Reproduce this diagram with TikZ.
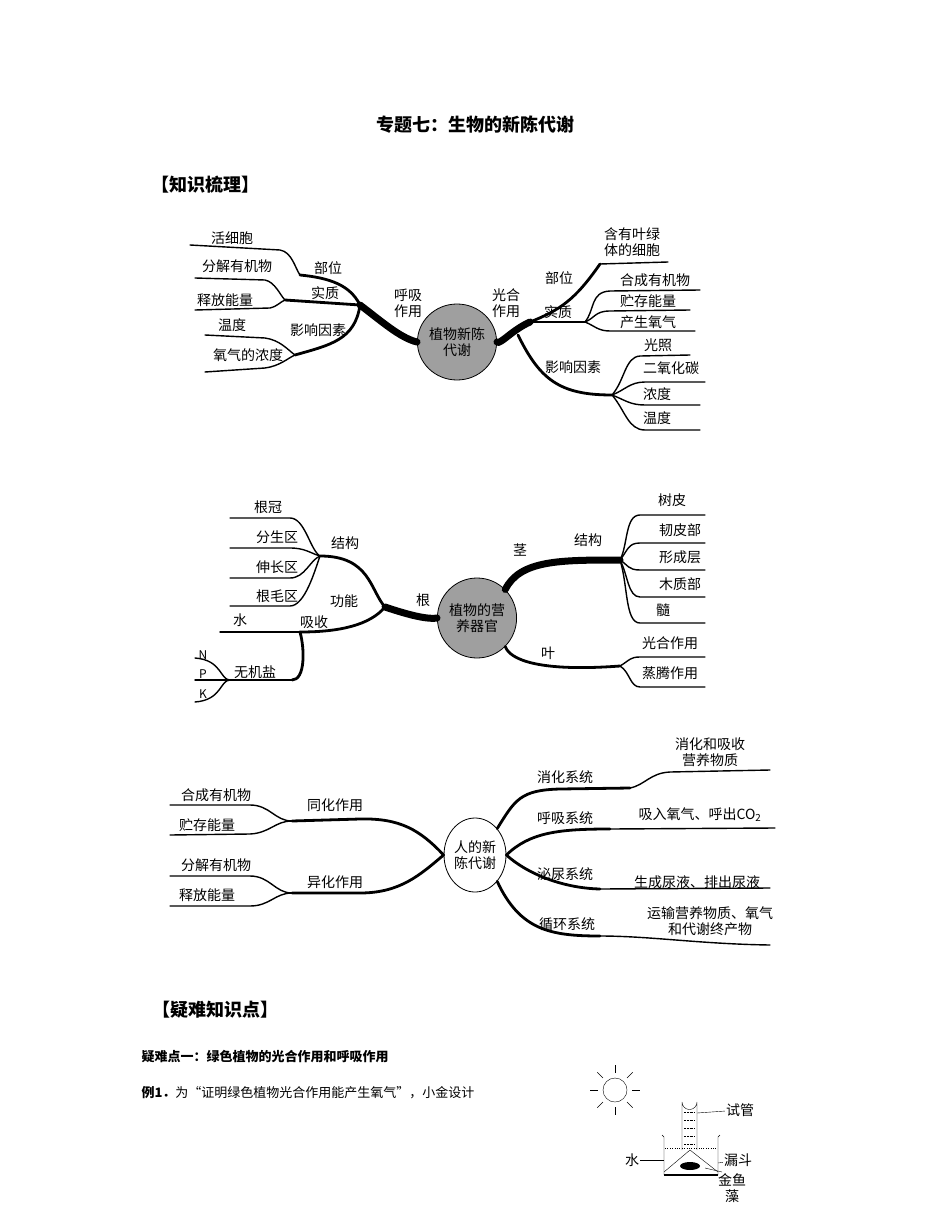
\documentclass[tikz,border=0pt]{standalone}
\usepackage{fontspec}
\setmainfont{Noto Sans CJK SC}
\usetikzlibrary{shapes.geometric}
\begin{document}
\begin{tikzpicture}[x=1pt,y=-1pt,
 lf/.style={line width=1.4pt,line cap=round},
 br/.style={line width=2.8pt,line cap=round},
 tr/.style={line width=7pt,line cap=round},
 tx/.style={font=\fontsize{14}{16}\selectfont,inner sep=1pt},
 hub/.style={ellipse,draw,line width=0.8pt,minimum width=62pt,minimum height=76pt,align=center,inner sep=0pt,font=\fontsize{14}{16}\selectfont}]
\useasboundingbox (0,0) rectangle (950,1230);
\node[font=\fontsize{18}{20}\selectfont\bfseries] (title) at (475,125) {专题七：生物的新陈代谢};
\node[font=\fontsize{18}{20}\selectfont\bfseries] (h1) at (205,185) {【知识梳理】};
% ===== diagram 1 =====
\node[hub,fill=gray!75] (c1) at (457,342) {植物新陈\\代谢};
\coordinate (L1) at (360,305);
\draw[tr] (c1.west) .. controls (400,338) and (380,320) .. (L1);
\coordinate (Jb) at (300,275); \coordinate (Js) at (285,300); \coordinate (Jy) at (295,355);
\draw[br] (L1) .. controls (350,285) and (330,278) .. (Jb);
\draw[br] (L1) -- (Js);
\draw[br] (L1) .. controls (355,340) and (330,345) .. (Jy);
\draw[lf] (190,245) -- (280,250) .. controls (292,252) and (295,268) .. (Jb);
\draw[lf] (195,278) -- (265,280) .. controls (275,282) and (280,295) .. (Js);
\draw[lf] (195,310) -- (270,308) .. controls (278,306) and (280,302) .. (Js);
\draw[lf] (205,335) -- (265,338) .. controls (280,340) and (288,350) .. (Jy);
\draw[lf] (205,372) -- (265,368) .. controls (280,366) and (288,358) .. (Jy);
\node[tx] (a1) at (232,238) {活细胞};
\node[tx] (a2) at (328,268) {部位};
\node[tx] (a3) at (237,266) {分解有机物};
\node[tx] (a4) at (325,293) {实质};
\node[tx] (a5) at (225,300) {释放能量};
\node[tx] (a6) at (232,325) {温度};
\node[tx] (a7) at (318,330) {影响因素};
\node[tx] (a8) at (248,355) {氧气的浓度};
\node[tx,align=center] (a9) at (408,303) {呼吸\\作用};
\node[tx,align=center] (b0) at (506,303) {光合\\作用};
\coordinate (R1) at (530,322);
\draw[tr] (c1.east) .. controls (500,345) and (512,330) .. (R1);
\coordinate (Rb) at (600,264); \coordinate (Rs) at (585,322); \coordinate (Ry) at (612,395);
\draw[br] (R1) .. controls (560,310) and (575,300) .. (Rb);
\draw[br] (R1) -- (Rs);
\draw[br] (518,335) .. controls (540,380) and (560,395) .. (Ry);
\draw[lf] (Rb) -- (668,262);
\draw[lf] (Rs) .. controls (595,310) and (590,292) .. (610,291) -- (700,290);
\draw[lf] (Rs) .. controls (595,318) and (595,311) .. (610,311) -- (690,310);
\draw[lf] (Rs) .. controls (595,326) and (598,331) .. (610,331) -- (695,331);
\draw[lf] (Ry) .. controls (625,380) and (625,357) .. (640,356) -- (690,355);
\draw[lf] (Ry) .. controls (625,390) and (630,382) .. (645,382) -- (705,382);
\draw[lf] (Ry) .. controls (625,400) and (630,405) .. (645,405) -- (700,405);
\draw[lf] (Ry) .. controls (625,410) and (628,430) .. (645,430) -- (700,430);
\node[tx] (b1) at (559,278) {部位};
\node[tx,align=center] (b2) at (632,242) {含有叶绿\\体的细胞};
\node[tx] (b3) at (655,280) {合成有机物};
\node[tx] (b4) at (648,301) {贮存能量};
\node[tx] (b5) at (558,312) {实质};
\node[tx] (b6) at (648,322) {产生氧气};
\node[tx] (b7) at (658,345) {光照};
\node[tx] (b8) at (573,367) {影响因素};
\node[tx] (b9) at (671,368) {二氧化碳};
\node[tx] (b10) at (657,394) {浓度};
\node[tx] (b11) at (657,418) {温度};
% ===== diagram 2 =====
\node[hub,fill=gray!75,minimum width=64pt,minimum height=80pt] (c2) at (477,618) {植物的营\\养器官};
\coordinate (G) at (385,607);
\draw[tr] (c2.west) .. controls (425,620) and (400,612) .. (G);
\coordinate (Gj) at (320,556); \coordinate (Gx) at (300,632); \coordinate (Gw) at (292,680);
\draw[br] (G) .. controls (370,590) and (370,556) .. (Gj);
\draw[br] (G) .. controls (370,625) and (340,632) .. (Gx);
\draw[br] (Gx) .. controls (305,650) and (305,680) .. (Gw);
\draw[lf] (230,518) -- (290,518) .. controls (305,518) and (310,550) .. (Gj);
\draw[lf] (230,548) -- (290,548) .. controls (305,548) and (310,553) .. (Gj);
\draw[lf] (230,578) -- (290,578) .. controls (305,578) and (310,560) .. (Gj);
\draw[lf] (230,606) -- (290,606) .. controls (305,606) and (315,570) .. (Gj);
\draw[lf] (220,632) -- (Gx);
\draw[lf] (Gw) -- (230,680);
\draw[lf] (230,680) .. controls (220,680) and (222,660) .. (195,658);
\draw[lf] (230,680) -- (195,680);
\draw[lf] (230,680) .. controls (220,680) and (222,700) .. (195,702);
\node[tx] (d1) at (268,507) {根冠};
\node[tx] (d2) at (277,537) {分生区};
\node[tx] (d3) at (345,543) {结构};
\node[tx] (d4) at (277,567) {伸长区};
\node[tx] (d5) at (277,596) {根毛区};
\node[tx] (d6) at (344,601) {功能};
\node[tx] (d7) at (423,600) {根};
\node[tx] (d8) at (240,620) {水};
\node[tx] (d9) at (314,622) {吸收};
\node[tx] (d10) at (255,672) {无机盐};
\node[tx,font=\fontsize{12}{13}\selectfont] (n1) at (203,655) {N};
\node[tx,font=\fontsize{12}{13}\selectfont] (n2) at (203,674) {P};
\node[tx,font=\fontsize{12}{13}\selectfont] (n3) at (203,694) {K};
\coordinate (S) at (620,560);
\draw[tr] (c2.north east) .. controls (520,560) and (560,560) .. (S);
\draw[lf] (S) .. controls (628,545) and (625,515) .. (640,515) -- (705,515);
\draw[lf] (S) .. controls (628,550) and (628,543) .. (640,543) -- (705,543);
\draw[lf] (S) .. controls (628,565) and (628,570) .. (640,570) -- (705,570);
\draw[lf] (S) .. controls (628,575) and (628,597) .. (640,597) -- (705,597);
\draw[lf] (S) .. controls (628,585) and (625,623) .. (640,623) -- (705,623);
\coordinate (Y) at (620,666);
\draw[br] (c2.south east) .. controls (510,660) and (540,672) .. (Y);
\draw[lf] (Y) .. controls (630,660) and (630,657) .. (640,657) -- (705,657);
\draw[lf] (Y) .. controls (630,672) and (630,687) .. (640,687) -- (705,687);
\node[tx] (e0) at (520,550) {茎};
\node[tx] (e1) at (588,540) {结构};
\node[tx] (e2) at (672,500) {树皮};
\node[tx] (e3) at (680,530) {韧皮部};
\node[tx] (e4) at (680,557) {形成层};
\node[tx] (e5) at (680,584) {木质部};
\node[tx] (e6) at (663,610) {髓};
\node[tx] (e7) at (548,653) {叶};
\node[tx] (e8) at (670,643) {光合作用};
\node[tx] (e9) at (670,673) {蒸腾作用};
% ===== diagram 3 =====
\node[hub,fill=white,minimum width=62pt,minimum height=74pt] (c3) at (475,855) {人的新\\陈代谢};
\coordinate (T) at (292,821); \coordinate (U) at (292,893);
\draw[br] (c3.west) .. controls (420,830) and (400,818) .. (360,819) -- (T);
\draw[br] (c3.west) .. controls (420,875) and (400,893) .. (360,893) -- (U);
\draw[lf] (170,805) -- (250,805) .. controls (270,805) and (275,821) .. (T);
\draw[lf] (170,835) -- (250,834) .. controls (270,833) and (275,821) .. (T);
\draw[lf] (170,876) -- (250,876) .. controls (270,876) and (275,893) .. (U);
\draw[lf] (170,906) -- (250,906) .. controls (270,906) and (275,893) .. (U);
\node[tx] (f1) at (216,795) {合成有机物};
\node[tx] (f2) at (335,805) {同化作用};
\node[tx] (f3) at (207,825) {贮存能量};
\node[tx] (f4) at (216,865) {分解有机物};
\node[tx] (f5) at (335,882) {异化作用};
\node[tx] (f6) at (207,895) {释放能量};
\coordinate (P1) at (630,788); \coordinate (P2) at (610,829); \coordinate (P3) at (600,889); \coordinate (P4) at (600,936);
\draw[br] (c3.north east) .. controls (515,800) and (520,790) .. (560,789) -- (P1);
\draw[lf] (P1) .. controls (645,785) and (650,773) .. (670,772) -- (770,770);
\draw[br] (c3.east) .. controls (530,832) and (560,829) .. (P2);
\draw[lf] (P2) -- (775,828);
\draw[br] (c3.east) .. controls (525,872) and (560,888) .. (P3);
\draw[lf] (P3) -- (770,888);
\draw[br] (c3.south east) .. controls (520,930) and (550,936) .. (P4);
\draw[lf] (P4) .. controls (650,936) and (700,944) .. (770,945);
\node[tx] (g1) at (565,777) {消化系统};
\node[tx,align=center] (g2) at (710,752) {消化和吸收\\营养物质};
\node[tx] (g3) at (565,818) {呼吸系统};
\node[tx] (g4) at (700,815) {吸入氧气、呼出CO\textsubscript{2}};
\node[tx] (g5) at (565,874) {泌尿系统};
\node[tx] (g6) at (697,882) {生成尿液、排出尿液};
\node[tx] (g7) at (567,924) {循环系统};
\node[tx,align=center] (g8) at (710,921) {运输营养物质、氧气\\和代谢终产物};
% ===== bottom text =====
\node[font=\fontsize{18}{20}\selectfont\bfseries] (h2) at (215,1010) {【疑难知识点】};
\node[anchor=west,font=\fontsize{13}{15}\selectfont\bfseries] (q1) at (138,1057) {疑难点一：绿色植物的光合作用和呼吸作用};
\node[anchor=west,font=\fontsize{13}{15}\selectfont] (q2) at (138,1093) {\textbf{例1．}为“证明绿色植物光合作用能产生氧气”，小金设计};
% experiment figure
\node[circle,draw,minimum size=24pt,inner sep=0pt] (sun) at (615,1090) {};
\foreach \a in {0,45,90,135,180,225,270,315}
  \draw (sun.center) ++(\a:17) -- ++(\a:8);
\draw (662,1135) -- (664,1137) -- (664,1175) -- (718,1175) -- (718,1137) -- (720,1135);
\draw[line width=2pt] (664,1175) -- (718,1175);
\draw[dotted] (665,1148) -- (717,1148);
\draw (664,1172) -- (690,1150) -- (718,1172);
\draw (682,1150) -- (682,1102) arc (180:0:7.5) -- (697,1150);
\foreach \y in {1112,1120,...,1146} \draw[densely dotted] (684,\y) -- (695,\y);
\fill (690,1166) ellipse (10pt and 4pt);
\coordinate (w1) at (664,1160); \coordinate (w2) at (697,1113); \coordinate (w3) at (718,1163); \coordinate (w4) at (705,1168);
\node[tx] (l1) at (740,1110) {试管};
\node[tx] (l2) at (632,1160) {水};
\node[tx] (l3) at (738,1160) {漏斗};
\node[tx,align=center] (l4) at (732,1188) {金鱼\\藻};
\draw (l2) -- (w1);
\draw (w2) -- (l1);
\draw (w3) -- (l3);
\draw (w4) -- (722,1172);
\end{tikzpicture}
\end{document}
